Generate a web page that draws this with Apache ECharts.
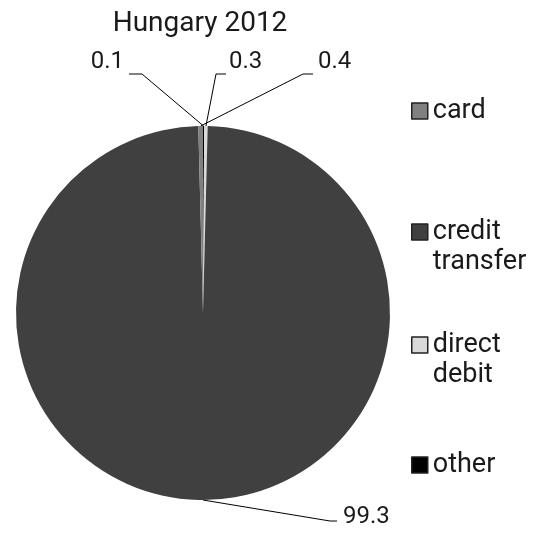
<!DOCTYPE html>
<html>
<head>
<meta charset="utf-8">
<script src="https://cdn.jsdelivr.net/npm/echarts@6/dist/echarts.min.js"></script>
<style>
  html, body { margin: 0; padding: 0; background: #fff; }
  #chart { width: 539px; height: 536px; }
</style>
</head>
<body>
<div id="chart"></div>
<script>
// Payment instrument shares, Hungary 2012 (per cent)
const titleText = 'Hungary 2012';
const categories = ['card', 'credit transfer', 'direct debit', 'other'];
const shares = [0.4, 99.3, 0.3, 0.1];
const sliceColors = ['#808080', '#404040', '#d9d9d9', '#000000'];

const FONT = 'Roboto';
const TEXT = '#1a1a1a';

// slices run clockwise from 12 o'clock in reverse legend order
const pieData = categories.map((name, i) => ({
  name: name,
  value: shares[i],
  itemStyle: { color: sliceColors[i] }
})).reverse();

// where each value label sits and where its leader line bends
const labelSpots = {
  'other':           { x: 124, y: 62, align: 'right', bend: [142, 74], end: [129, 74] },
  'direct debit':    { x: 229, y: 62, align: 'left',  bend: [216, 74], end: [226, 74] },
  'card':            { x: 318, y: 62, align: 'left',  bend: [303, 74], end: [313, 74] },
  'credit transfer': { x: 343, y: 517, align: 'left', bend: [330, 521], end: [337, 521] }
};

// two-word names wrap; a leading empty line keeps the first word level with the swatch
function legendFor(name, top) {
  return {
    data: [name],
    orient: 'vertical',
    left: 411,
    top: top,
    padding: 0,
    icon: 'rect',
    itemWidth: 16,
    itemHeight: 16,
    itemGap: 0,
    selectedMode: false,
    itemStyle: { borderColor: '#222', borderWidth: 1.5 },
    formatter: n => (n.indexOf(' ') > 0 ? '\n' + n.replace(' ', '\n') : n),
    textStyle: {
      fontFamily: FONT,
      fontSize: 27,
      color: TEXT,
      lineHeight: 30
    }
  };
}

const chart = echarts.init(document.getElementById('chart'), null, { renderer: 'canvas' });
chart.setOption({
  animation: false,
  backgroundColor: '#ffffff',
  title: {
    text: titleText,
    left: 195,
    top: 5,
    textAlign: 'center',
    textStyle: { fontFamily: FONT, fontSize: 28, fontWeight: 'normal', color: TEXT }
  },
  legend: [
    legendFor('card', 96),
    legendFor('credit transfer', 187),
    legendFor('direct debit', 300),
    legendFor('other', 450)
  ],
  series: [{
    type: 'pie',
    center: [203, 313],
    radius: 187,
    startAngle: 90,
    clockwise: true,
    avoidLabelOverlap: false,
    data: pieData,
    label: {
      show: true,
      position: 'outside',
      formatter: p => p.value.toFixed(1),
      fontFamily: FONT,
      fontSize: 24,
      color: TEXT
    },
    labelLine: {
      show: true,
      length: 20,
      length2: 10,
      smooth: false,
      lineStyle: { color: '#000', width: 1 }
    },
    labelLayout: function (params) {
      const name = pieData[params.dataIndex].name;
      const s = labelSpots[name];
      const p0 = params.labelLinePoints ? params.labelLinePoints[0] : [203, 126];
      return {
        x: s.x,
        y: s.y,
        align: s.align,
        verticalAlign: 'middle',
        labelLinePoints: [p0, s.bend, s.end]
      };
    },
    emphasis: { disabled: true }
  }]
});
</script>
</body>
</html>
